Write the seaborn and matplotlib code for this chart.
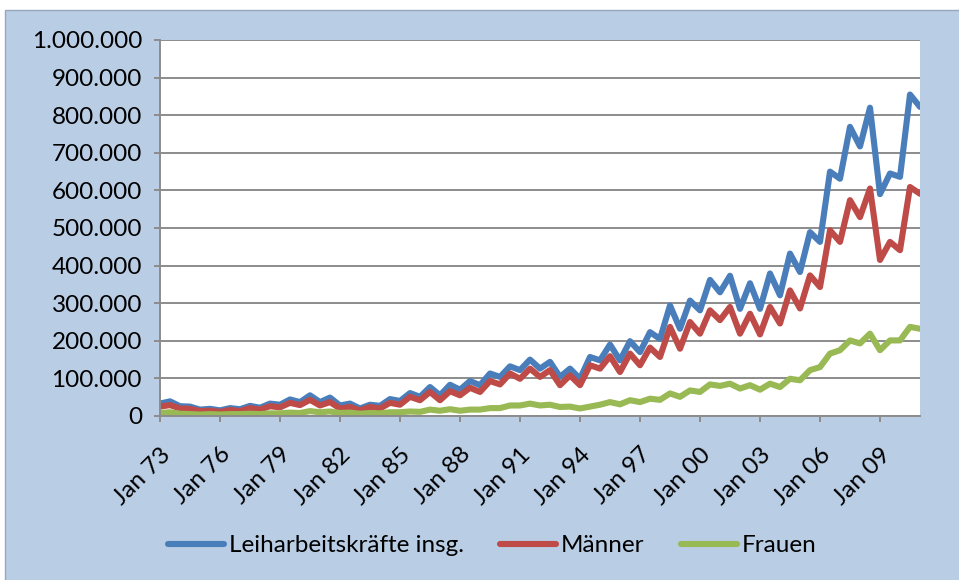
import numpy as np
import pandas as pd
import matplotlib
matplotlib.use('Agg')
import matplotlib.pyplot as plt
import matplotlib.patches as mpatches
import seaborn as sns

# Halbjahreswerte (in Tausend), Jan 73 bis Jan 11
zeitpunkte = np.arange(1973.0, 2011.5, 0.5)

insgesamt = [33, 39, 26, 25, 17, 19, 15, 21, 18, 27, 22, 33, 30, 44, 37, 55,
             37, 49, 28, 33, 20, 30, 27, 45, 40, 61, 51, 77, 55, 83, 70,
             93, 82, 113, 104, 132, 122, 150, 126, 144, 104, 126, 99, 157, 148, 190,
             148, 199, 170, 223, 205, 294, 232, 307, 281, 362, 329, 373, 285, 353, 285,
             379, 321, 432, 383, 489, 463, 650, 631, 769, 717, 820, 590, 645, 636, 855, 822]
maenner = [25, 29, 20, 19, 13, 14, 11, 16, 13, 21, 17, 26, 23, 35, 29, 43,
           28, 37, 20, 24, 15, 24, 20, 35, 30, 51, 42, 64, 42, 66, 55,
           75, 64, 93, 84, 113, 99, 126, 104, 122, 82, 108, 82, 135, 126, 159,
           117, 166, 135, 182, 157, 237, 179, 250, 219, 281, 255, 290, 219, 272, 217,
           290, 246, 334, 286, 374, 343, 494, 463, 574, 529, 605, 415, 463, 441, 609, 591]
frauen = [8, 10, 6, 5, 4, 5, 4, 5, 5, 6, 5, 7, 7, 9, 8, 13,
          10, 12, 8, 9, 6, 8, 7, 10, 10, 12, 11, 17, 14, 18, 14,
          17, 17, 21, 21, 28, 28, 33, 28, 30, 24, 25, 20, 25, 30, 37,
          31, 42, 37, 46, 43, 60, 51, 68, 64, 84, 80, 86, 73, 82, 70,
          86, 77, 99, 95, 122, 130, 166, 175, 201, 193, 219, 175, 201, 201, 237, 232]

reihen = ['Leiharbeitskräfte insg.', 'Männer', 'Frauen']
farben = ['#4A7EBB', '#BE4B48', '#98B954']
tick_jahre = list(range(1973, 2010, 3))
tick_labels = [f"Jan {j % 100:02d}" for j in tick_jahre]

df = pd.DataFrame({
    'Jahr': np.tile(zeitpunkte, 3),
    'Wert': np.array(insgesamt + maenner + frauen) * 1000,
    'Reihe': np.repeat(reihen, len(zeitpunkte)),
})

sns.set_style('white')
plt.rcParams['font.family'] = ['Lato', 'DejaVu Sans']
plt.rcParams['text.color'] = 'black'

fig = plt.figure(figsize=(9.59, 5.80), dpi=100, facecolor='white')
hintergrund = mpatches.Rectangle((5 / 959, -0.01), 1.0, 570 / 580 + 0.01,
                                 transform=fig.transFigure, facecolor='#B9CDE5',
                                 edgecolor='#98A8BC', linewidth=1, zorder=-10)
fig.add_artist(hintergrund)

ax = fig.add_axes([160 / 959, 1 - 416 / 580, 760 / 959, 376 / 580])
ax.set_zorder(1)
ax.set_facecolor('white')

sns.lineplot(data=df, x='Jahr', y='Wert', hue='Reihe', hue_order=reihen,
             palette=dict(zip(reihen, farben)), linewidth=4.4, ax=ax,
             solid_joinstyle='round', solid_capstyle='round')

ax.set_xlim(1973, 2011)
ax.set_ylim(0, 1_000_000)
ax.set_yticks(range(0, 1_000_001, 100_000))
ax.set_yticklabels([f"{v:,.0f}".replace(',', '.') for v in range(0, 1_000_001, 100_000)],
                   fontsize=17.5)
ax.set_xticks(tick_jahre)
ax.set_xticklabels(tick_labels, rotation=45, ha='right', rotation_mode='anchor', fontsize=17.5)
ax.grid(axis='y', color='#8C8C8C', linewidth=1.4)
ax.set_axisbelow(True)
ax.set_xlabel('')
ax.set_ylabel('')

for side in ['top', 'right']:
    ax.spines[side].set_visible(False)
for side in ['left', 'bottom']:
    ax.spines[side].set_color('#8C8C8C')
    ax.spines[side].set_linewidth(1.4)
ax.tick_params(axis='both', direction='out', length=4, width=1.4, color='#8C8C8C',
               labelcolor='black', left=True, bottom=True)
ax.tick_params(axis='y', pad=9)
ax.tick_params(axis='x', pad=16)

ax.get_legend().remove()
handles, labels = ax.get_legend_handles_labels()
leg = fig.legend(handles, labels, loc='center', bbox_to_anchor=(0.513, 0.059), ncol=3,
                 frameon=False, fontsize=17.5, handlelength=2.3, columnspacing=1.5,
                 handletextpad=0.2)
for t in leg.get_texts():
    t.set_color('black')

fig.savefig('out.png', dpi=100, facecolor=fig.get_facecolor())
